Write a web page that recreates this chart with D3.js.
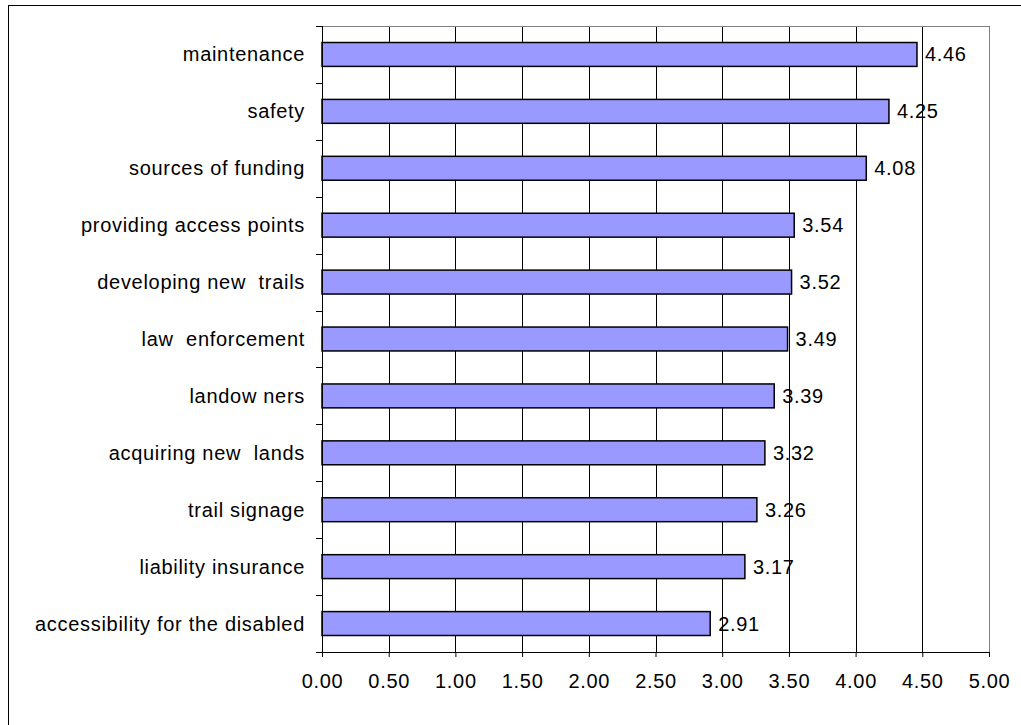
<!DOCTYPE html>
<html><head><meta charset="utf-8">
<script src="https://cdn.jsdelivr.net/npm/d3@7"></script>
<style>body{margin:0;background:#fff}svg{display:block}text{font-family:"Liberation Sans",Arial,sans-serif;white-space:pre}</style>
</head><body><svg id="c" width="1021" height="725"></svg>
<script>
const categories = ["maintenance","safety","sources of funding","providing access points","developing new  trails","law  enforcement","landow ners","acquiring new  lands","trail signage","liability insurance","accessibility for the disabled"];
const values = [4.46,4.25,4.08,3.54,3.52,3.49,3.39,3.32,3.26,3.17,2.91];
const xTicks = [0,0.5,1,1.5,2,2.5,3,3.5,4,4.5,5];

const svg = d3.select("#c");
const L=322, R=989, T=26, B=652, FS=20, LS=0.7;
svg.append("rect").attr("x",8.5).attr("y",5.5).attr("width",1100).attr("height",800)
  .attr("fill","#fff").attr("stroke","#000").attr("stroke-width",1);

const x = d3.scaleLinear().domain([0,5]).range([L,R]);
const y = d3.scaleBand().domain(categories).range([T,B]).paddingInner(0.58).paddingOuter(0.29);
const yb = d3.scaleBand().domain(categories).range([T,B]);

// gridlines
svg.append("g").selectAll("line").data(xTicks.slice(1)).join("line")
  .attr("x1",d=>Math.round(x(d))+0.5).attr("x2",d=>Math.round(x(d))+0.5)
  .attr("y1",T).attr("y2",B)
  .attr("stroke",d=>d===5?"#808080":"#000").attr("stroke-width",1);
svg.append("line").attr("x1",L).attr("x2",R).attr("y1",T+0.5).attr("y2",T+0.5).attr("stroke","#808080");

// bars
svg.append("g").selectAll("rect").data(values).join("rect")
  .attr("x",L).attr("y",(d,i)=>y(categories[i]))
  .attr("width",d=>x(d)-L).attr("height",y.bandwidth())
  .attr("fill","#9999FF").attr("stroke","#000").attr("stroke-width",1.5);

// value labels
svg.append("g").selectAll("text").data(values).join("text")
  .attr("x",d=>x(d)+8).attr("y",(d,i)=>y(categories[i])+y.bandwidth()/2)
  .attr("dy","0.35em").attr("font-size",FS).attr("letter-spacing",LS).attr("fill","#000")
  .text(d=>d.toFixed(2));

// x axis
const xa = svg.append("g").attr("transform",`translate(0,${B})`)
  .call(d3.axisBottom(x).tickValues(xTicks).tickFormat(d3.format(".2f")).tickSize(5).tickPadding(17));
xa.select(".domain").attr("stroke","#000").attr("d",`M${L},0.5H${R}`);
xa.selectAll(".tick line").attr("stroke","#000");
xa.selectAll("text").attr("font-size",FS).attr("letter-spacing",LS).attr("fill","#000").attr("font-family","Liberation Sans, Arial, sans-serif");

// y axis
svg.append("line").attr("x1",L+0.5).attr("x2",L+0.5).attr("y1",T).attr("y2",B+5).attr("stroke","#000");
const bounds = categories.map(c=>yb(c)).concat([B]);
svg.append("g").selectAll("line").data(bounds).join("line")
  .attr("x1",L-6).attr("x2",L).attr("y1",d=>Math.round(d)+0.5).attr("y2",d=>Math.round(d)+0.5).attr("stroke","#000");
svg.append("g").selectAll("text").data(categories).join("text")
  .attr("x",305).attr("y",d=>yb(d)+yb.bandwidth()/2).attr("dy","0.35em")
  .attr("text-anchor","end").attr("font-size",FS).attr("letter-spacing",LS).attr("fill","#000").text(d=>d);
</script></body></html>
